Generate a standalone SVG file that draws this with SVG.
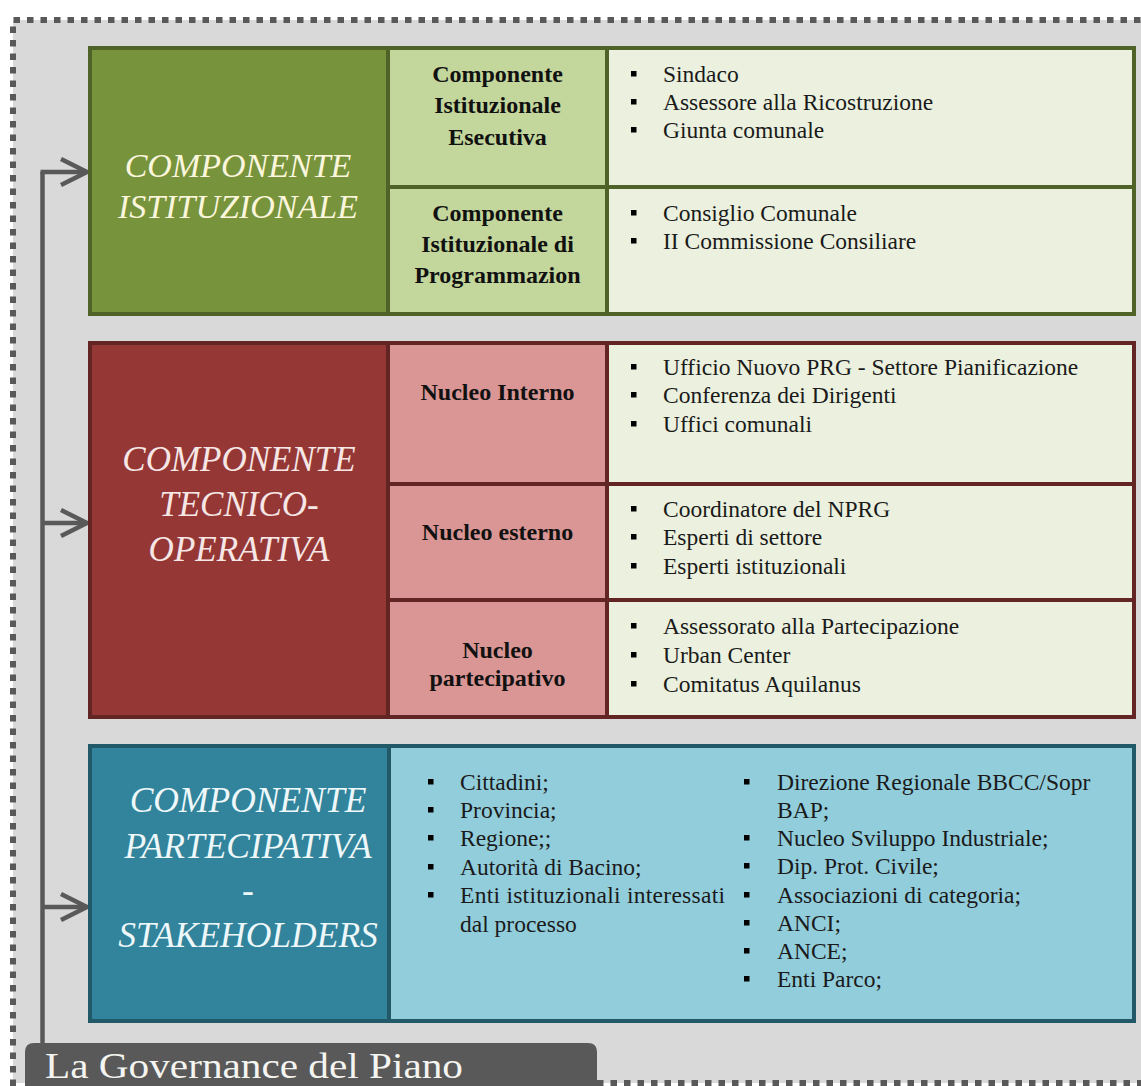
<svg xmlns="http://www.w3.org/2000/svg" width="1141" height="1086" viewBox="0 0 1141 1086">
<style>
  .frame { fill: none; stroke: #595959; stroke-width: 6; stroke-dasharray: 6.5 7; }
  .head { font-family: "Liberation Serif", "DejaVu Serif", serif; font-style: italic; text-anchor: middle; }
  .sub { font-family: "Liberation Serif", "DejaVu Serif", serif; font-weight: bold; font-size: 24px; fill: #111; text-anchor: middle; }
  .item { font-family: "Liberation Serif", "DejaVu Serif", serif; font-size: 23.5px; fill: #1a1a1a; }
  .bul { fill: #000; }
  .conn { fill: none; stroke: #595959; stroke-width: 4.5; }
  .g-line { stroke: #4f6228; stroke-width: 4; fill: none; }
  .r-line { stroke: #632523; stroke-width: 4; fill: none; }
  .b-line { stroke: #215968; stroke-width: 4; fill: none; }
</style>
<defs>
  <marker id="chev" markerUnits="userSpaceOnUse" viewBox="0 0 30 30" refX="28" refY="15" markerWidth="30" markerHeight="30" orient="auto">
    <polyline points="2,2 28,15 2,28" fill="none" stroke="#595959" stroke-width="4.5" stroke-linejoin="miter"/>
  </marker>
</defs>

<rect x="0" y="0" width="1141" height="1086" fill="#ffffff"/>
<rect x="13" y="20" width="1140" height="1063" fill="#d9d9d9"/>
<path class="frame" d="M13,1086 L13,20 L1141,20"/>
<path class="frame" d="M597,1083 L1141,1083"/>

<g id="connectors">
  <path class="conn" d="M42.5,1045 L42.5,172"/>
  <path class="conn" d="M40.5,172 L87,172" marker-end="url(#chev)"/>
  <path class="conn" d="M42.5,523 L87,523" marker-end="url(#chev)"/>
  <path class="conn" d="M42.5,907 L87,907" marker-end="url(#chev)"/>
</g>

<g id="componente-istituzionale">
  <rect x="90" y="48" width="298" height="266" fill="#77933c"/>
  <rect x="388" y="48" width="219" height="266" fill="#c3d69b"/>
  <rect x="607" y="48" width="527" height="266" fill="#ebf1de"/>
  <rect class="g-line" x="90" y="48" width="1044" height="266"/>
  <path class="g-line" d="M388,48 L388,314 M607,48 L607,314 M388,187 L1134,187"/>
  <text class="head" x="238" y="177" font-size="34" fill="#fbf6dc">COMPONENTE</text>
  <text class="head" x="238" y="218" font-size="34" fill="#fbf6dc">ISTITUZIONALE</text>
  <text class="sub" x="497.5" y="82">Componente</text>
  <text class="sub" x="497.5" y="113">Istituzionale</text>
  <text class="sub" x="497.5" y="145">Esecutiva</text>
  <text class="sub" x="497.5" y="221">Componente</text>
  <text class="sub" x="497.5" y="252">Istituzionale di</text>
  <text class="sub" x="497.5" y="283">Programmazion</text>
  <rect class="bul" x="631" y="71" width="5.5" height="5.5"/>
  <rect class="bul" x="631" y="99" width="5.5" height="5.5"/>
  <rect class="bul" x="631" y="127" width="5.5" height="5.5"/>
  <text class="item" x="663" y="82">Sindaco</text>
  <text class="item" x="663" y="110">Assessore alla Ricostruzione</text>
  <text class="item" x="663" y="138">Giunta comunale</text>
  <rect class="bul" x="631" y="210" width="5.5" height="5.5"/>
  <rect class="bul" x="631" y="238" width="5.5" height="5.5"/>
  <text class="item" x="663" y="221">Consiglio Comunale</text>
  <text class="item" x="663" y="249">II Commissione Consiliare</text>
</g>

<g id="componente-tecnico-operativa">
  <rect x="90" y="343" width="298" height="374" fill="#953735"/>
  <rect x="388" y="343" width="219" height="374" fill="#d99694"/>
  <rect x="607" y="343" width="527" height="374" fill="#ebf1de"/>
  <rect class="r-line" x="90" y="343" width="1044" height="374"/>
  <path class="r-line" d="M388,343 L388,717 M607,343 L607,717 M388,484 L1134,484 M388,600 L1134,600"/>
  <text class="head" x="239" y="471" font-size="35" fill="#f6e7e6">COMPONENTE</text>
  <text class="head" x="239" y="516" font-size="35" fill="#f6e7e6">TECNICO-</text>
  <text class="head" x="239" y="561" font-size="35" fill="#f6e7e6">OPERATIVA</text>
  <text class="sub" x="497.5" y="400">Nucleo Interno</text>
  <text class="sub" x="497.5" y="540">Nucleo esterno</text>
  <text class="sub" x="497.5" y="658">Nucleo</text>
  <text class="sub" x="497.5" y="686">partecipativo</text>
  <rect class="bul" x="631" y="364" width="5.5" height="5.5"/>
  <rect class="bul" x="631" y="392" width="5.5" height="5.5"/>
  <rect class="bul" x="631" y="421" width="5.5" height="5.5"/>
  <text class="item" x="663" y="375">Ufficio Nuovo PRG - Settore Pianificazione</text>
  <text class="item" x="663" y="403">Conferenza dei Dirigenti</text>
  <text class="item" x="663" y="432">Uffici comunali</text>
  <rect class="bul" x="631" y="506" width="5.5" height="5.5"/>
  <rect class="bul" x="631" y="534" width="5.5" height="5.5"/>
  <rect class="bul" x="631" y="563" width="5.5" height="5.5"/>
  <text class="item" x="663" y="517">Coordinatore del NPRG</text>
  <text class="item" x="663" y="545">Esperti di settore</text>
  <text class="item" x="663" y="574">Esperti istituzionali</text>
  <rect class="bul" x="631" y="623" width="5.5" height="5.5"/>
  <rect class="bul" x="631" y="652" width="5.5" height="5.5"/>
  <rect class="bul" x="631" y="681" width="5.5" height="5.5"/>
  <text class="item" x="663" y="634">Assessorato alla Partecipazione</text>
  <text class="item" x="663" y="663">Urban Center</text>
  <text class="item" x="663" y="692">Comitatus Aquilanus</text>
</g>

<g id="componente-partecipativa">
  <rect x="90" y="746" width="299" height="275" fill="#31849b"/>
  <rect x="389" y="746" width="745" height="275" fill="#92cddc"/>
  <rect class="b-line" x="90" y="746" width="1044" height="275"/>
  <path class="b-line" d="M389,746 L389,1021"/>
  <text class="head" x="248" y="812" font-size="35.5" fill="#eef7fa">COMPONENTE</text>
  <text class="head" x="248" y="858" font-size="35.5" fill="#eef7fa">PARTECIPATIVA</text>
  <text class="head" x="248" y="902" font-size="35.5" fill="#eef7fa">-</text>
  <text class="head" x="248" y="947" font-size="35.5" fill="#eef7fa">STAKEHOLDERS</text>
  <rect class="bul" x="428" y="779" width="5.5" height="5.5"/>
  <rect class="bul" x="428" y="807" width="5.5" height="5.5"/>
  <rect class="bul" x="428" y="835" width="5.5" height="5.5"/>
  <rect class="bul" x="428" y="864" width="5.5" height="5.5"/>
  <rect class="bul" x="428" y="892" width="5.5" height="5.5"/>
  <text class="item" x="460" y="790">Cittadini;</text>
  <text class="item" x="460" y="818">Provincia;</text>
  <text class="item" x="460" y="846">Regione;;</text>
  <text class="item" x="460" y="875">Autorità di Bacino;</text>
  <text class="item" x="460" y="903" textLength="265" lengthAdjust="spacing">Enti istituzionali interessati</text>
  <text class="item" x="460" y="932">dal processo</text>
  <rect class="bul" x="744" y="779" width="5.5" height="5.5"/>
  <rect class="bul" x="744" y="835" width="5.5" height="5.5"/>
  <rect class="bul" x="744" y="863" width="5.5" height="5.5"/>
  <rect class="bul" x="744" y="892" width="5.5" height="5.5"/>
  <rect class="bul" x="744" y="920" width="5.5" height="5.5"/>
  <rect class="bul" x="744" y="948" width="5.5" height="5.5"/>
  <rect class="bul" x="744" y="976" width="5.5" height="5.5"/>
  <text class="item" x="777" y="790">Direzione Regionale BBCC/Sopr</text>
  <text class="item" x="777" y="818">BAP;</text>
  <text class="item" x="777" y="846">Nucleo Sviluppo Industriale;</text>
  <text class="item" x="777" y="874">Dip. Prot. Civile;</text>
  <text class="item" x="777" y="903">Associazioni di categoria;</text>
  <text class="item" x="777" y="931">ANCI;</text>
  <text class="item" x="777" y="959">ANCE;</text>
  <text class="item" x="777" y="987">Enti Parco;</text>
</g>

<g id="title-tab">
  <path d="M25,1086 L25,1052 Q25,1043 34,1043 L588,1043 Q597,1043 597,1052 L597,1086 Z" fill="#595959"/>
  <text x="45" y="1078" font-family="'Liberation Serif', 'DejaVu Serif', serif" font-size="36" fill="#f4f4f0" textLength="418" lengthAdjust="spacingAndGlyphs">La Governance del Piano</text>
</g>
</svg>
